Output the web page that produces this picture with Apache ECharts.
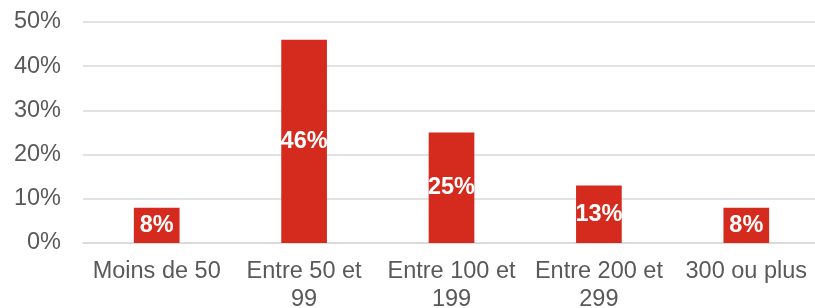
<!DOCTYPE html>
<html><head><meta charset="utf-8">
<script src="https://cdn.jsdelivr.net/npm/echarts@6/dist/echarts.min.js"></script>
<style>html,body{margin:0;padding:0;background:#fff}#c{width:815px;height:308px}</style>
</head><body><div id="c"></div>
<script>
const categories = ['Moins de 50', 'Entre 50 et 99', 'Entre 100 et 199', 'Entre 200 et 299', '300 ou plus'];
const values = [8, 46, 25, 13, 8];
const yTicks = [0, 10, 20, 30, 40, 50];

const FONT = 'Liberation Sans, Arial, sans-serif';
const chart = echarts.init(document.getElementById('c'), null, {renderer: 'canvas'});
chart.setOption({
  animation: false,
  grid: {left: 83, right: -5, top: 22, bottom: 65, containLabel: false, outerBoundsMode: 'none'},
  xAxis: {
    type: 'category', data: categories,
    axisLine: {show: true, lineStyle: {color: '#d9d9d9', width: 1.5}},
    axisTick: {show: false},
    axisLabel: {
      color: '#595959', fontFamily: FONT, fontSize: 23.5,
      lineHeight: 28, margin: 15, interval: 0,
      formatter: v => v.replace(' et ', ' et\n')
    }
  },
  yAxis: {
    type: 'value', min: yTicks[0], max: yTicks[yTicks.length - 1], interval: 10,
    axisLine: {show: false}, axisTick: {show: false},
    splitLine: {lineStyle: {color: '#d9d9d9', width: 1.5}},
    axisLabel: {
      color: '#595959', fontFamily: FONT, fontSize: 23.5,
      margin: 22, formatter: v => v + '%'
    }
  },
  series: [{
    type: 'bar', data: values, barWidth: '31%',
    itemStyle: {color: '#D52B1E'},
    label: {
      show: true, position: 'inside', color: '#fff', fontWeight: 'bold',
      fontFamily: FONT, fontSize: 23.5,
      formatter: p => p.value + '%'
    }
  }]
});
</script></body></html>
